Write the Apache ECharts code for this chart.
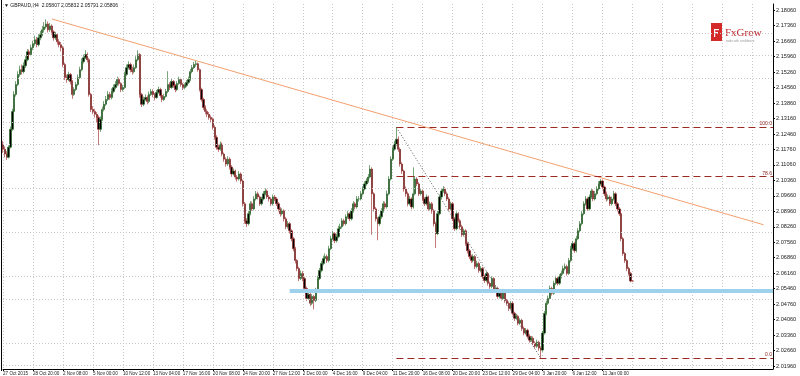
<!DOCTYPE html>
<html><head><meta charset="utf-8">
<script src="https://cdn.jsdelivr.net/npm/echarts@6/dist/echarts.min.js"></script>
<style>html,body{margin:0;padding:0;background:#fff}#c{width:800px;height:376px}</style>
</head><body><div id="c"></div>
<script>
const symbolName = 'GBPAUD,H4';
const timeLabels = ["27 Oct 2015","28 Oct 20:00","2 Nov 08:00","5 Nov 00:00","10 Nov 12:00","13 Nov 04:00","17 Nov 16:00","20 Nov 08:00","24 Nov 20:00","27 Nov 12:00","2 Dec 00:00","4 Dec 16:00","9 Dec 04:00","11 Dec 20:00","16 Dec 08:00","20 Dec 20:00","23 Dec 12:00","29 Dec 04:00","3 Jan 20:00","6 Jan 12:00","11 Jan 00:00"];
const barsPerLabel = 16;
const slotCount = 412;
const yTicks = [2.0196,2.0266,2.0336,2.0406,2.0476,2.0546,2.0616,2.0686,2.0756,2.0826,2.0896,2.0966,2.1036,2.1106,2.1176,2.1246,2.1316,2.1386,2.1456,2.1526,2.1596,2.1666,2.1736,2.1806];
const yMin = 2.01825, yMax = 2.1834;

const opens = [2.1200,2.1177,2.1155,2.1141,2.1186,2.1267,2.1348,2.1425,2.1470,2.1515,
2.1537,2.1528,2.1555,2.1582,2.1618,2.1605,2.1636,2.1654,2.1672,2.1650,
2.1681,2.1695,2.1717,2.1730,2.1744,2.1717,2.1735,2.1708,2.1681,2.1695,
2.1663,2.1650,2.1636,2.1560,2.1501,2.1492,2.1515,2.1483,2.1425,2.1447,
2.1470,2.1501,2.1537,2.1573,2.1591,2.1605,2.1582,2.1425,2.1357,2.1348,
2.1335,2.1321,2.1267,2.1312,2.1357,2.1380,2.1402,2.1425,2.1411,2.1438,
2.1456,2.1470,2.1492,2.1474,2.1447,2.1456,2.1515,2.1546,2.1560,2.1537,
2.1528,2.1546,2.1582,2.1605,2.1425,2.1380,2.1402,2.1411,2.1393,2.1425,
2.1438,2.1425,2.1411,2.1434,2.1447,2.1420,2.1402,2.1416,2.1438,2.1470,
2.1456,2.1483,2.1465,2.1447,2.1474,2.1492,2.1470,2.1456,2.1465,2.1479,
2.1492,2.1528,2.1546,2.1560,2.1564,2.1537,2.1447,2.1402,2.1366,2.1348,
2.1335,2.1321,2.1312,2.1276,2.1231,2.1186,2.1177,2.1200,2.1155,2.1132,
2.1110,2.1132,2.1096,2.1065,2.1078,2.1051,2.1042,2.1065,2.1033,2.0930,
2.0853,2.0840,2.0885,2.0930,2.0907,2.0952,2.0975,2.0961,2.0930,2.0952,
2.0975,2.0988,2.0961,2.0952,2.0930,2.0961,2.0952,2.0930,2.0907,2.0885,
2.0898,2.0862,2.0826,2.0840,2.0808,2.0772,2.0727,2.0673,2.0637,2.0592,
2.0615,2.0592,2.0547,2.0502,2.0520,2.0480,2.0511,2.0493,2.0538,2.0592,
2.0628,2.0660,2.0682,2.0691,2.0673,2.0727,2.0772,2.0795,2.0763,2.0781,
2.0817,2.0826,2.0853,2.0840,2.0871,2.0885,2.0862,2.0898,2.0930,2.0916,
2.0952,2.0952,2.0975,2.0997,2.1020,2.1033,2.1051,2.1087,2.0975,2.0907,
2.0862,2.0840,2.0871,2.0898,2.0930,2.0916,2.0975,2.1042,2.1132,2.1177,
2.1200,2.1222,2.1177,2.1110,2.1078,2.0997,2.0975,2.0930,2.0952,2.0916,
2.0975,2.1042,2.1020,2.0975,2.0988,2.0952,2.0930,2.0961,2.0907,2.0930,
2.0898,2.0840,2.0795,2.0885,2.0961,2.0988,2.0997,2.0975,2.0952,2.0907,
2.0930,2.0862,2.0817,2.0885,2.0853,2.0826,2.0790,2.0808,2.0750,2.0718,
2.0691,2.0673,2.0691,2.0646,2.0660,2.0628,2.0637,2.0601,2.0583,2.0615,
2.0570,2.0556,2.0592,2.0538,2.0547,2.0511,2.0525,2.0502,2.0534,2.0493,
2.0480,2.0457,2.0480,2.0435,2.0412,2.0421,2.0390,2.0403,2.0367,2.0345,
2.0358,2.0331,2.0313,2.0322,2.0300,2.0286,2.0304,2.0277,2.0268,2.0345,
2.0434,2.0480,2.0502,2.0547,2.0525,2.0570,2.0592,2.0570,2.0601,2.0615,
2.0637,2.0646,2.0615,2.0673,2.0727,2.0750,2.0718,2.0772,2.0808,2.0840,
2.0885,2.0930,2.0952,2.0907,2.0961,2.0988,2.0952,2.0975,2.0997,2.1020,
2.1033,2.1006,2.0975,2.0952,2.0961,2.0930,2.0952,2.0975,2.0930,2.0907,
2.0885,2.0772,2.0705,2.0673,2.0637,2.0615,2.05807];

const closes = [2.1177,2.1155,2.1141,2.1186,2.1267,2.1348,2.1425,2.1470,2.1515,2.1537,
2.1528,2.1555,2.1582,2.1618,2.1605,2.1636,2.1654,2.1672,2.1650,2.1681,
2.1695,2.1717,2.1730,2.1744,2.1717,2.1735,2.1708,2.1681,2.1695,2.1663,
2.1650,2.1636,2.1560,2.1501,2.1492,2.1515,2.1483,2.1425,2.1447,2.1470,
2.1501,2.1537,2.1573,2.1591,2.1605,2.1582,2.1425,2.1357,2.1348,2.1335,
2.1321,2.1267,2.1312,2.1357,2.1380,2.1402,2.1425,2.1411,2.1438,2.1456,
2.1470,2.1492,2.1474,2.1447,2.1456,2.1515,2.1546,2.1560,2.1537,2.1528,
2.1546,2.1582,2.1605,2.1425,2.1380,2.1402,2.1411,2.1393,2.1425,2.1438,
2.1425,2.1411,2.1434,2.1447,2.1420,2.1402,2.1416,2.1438,2.1470,2.1456,
2.1483,2.1465,2.1447,2.1474,2.1492,2.1470,2.1456,2.1465,2.1479,2.1492,
2.1528,2.1546,2.1560,2.1564,2.1537,2.1447,2.1402,2.1366,2.1348,2.1335,
2.1321,2.1312,2.1276,2.1231,2.1186,2.1177,2.1200,2.1155,2.1132,2.1110,
2.1132,2.1096,2.1065,2.1078,2.1051,2.1042,2.1065,2.1033,2.0930,2.0853,
2.0840,2.0885,2.0930,2.0907,2.0952,2.0975,2.0961,2.0930,2.0952,2.0975,
2.0988,2.0961,2.0952,2.0930,2.0961,2.0952,2.0930,2.0907,2.0885,2.0898,
2.0862,2.0826,2.0840,2.0808,2.0772,2.0727,2.0673,2.0637,2.0592,2.0615,
2.0592,2.0547,2.0502,2.0520,2.0480,2.0511,2.0493,2.0538,2.0592,2.0628,
2.0660,2.0682,2.0691,2.0673,2.0727,2.0772,2.0795,2.0763,2.0781,2.0817,
2.0826,2.0853,2.0840,2.0871,2.0885,2.0862,2.0898,2.0930,2.0916,2.0952,
2.0952,2.0975,2.0997,2.1020,2.1033,2.1051,2.1087,2.0975,2.0907,2.0862,
2.0840,2.0871,2.0898,2.0930,2.0916,2.0975,2.1042,2.1132,2.1177,2.1200,
2.1222,2.1177,2.1110,2.1078,2.0997,2.0975,2.0930,2.0952,2.0916,2.0975,
2.1042,2.1020,2.0975,2.0988,2.0952,2.0930,2.0961,2.0907,2.0930,2.0898,
2.0840,2.0795,2.0885,2.0961,2.0988,2.0997,2.0975,2.0952,2.0907,2.0930,
2.0862,2.0817,2.0885,2.0853,2.0826,2.0790,2.0808,2.0750,2.0718,2.0691,
2.0673,2.0691,2.0646,2.0660,2.0628,2.0637,2.0601,2.0583,2.0615,2.0570,
2.0556,2.0592,2.0538,2.0547,2.0511,2.0525,2.0502,2.0534,2.0493,2.0480,
2.0457,2.0480,2.0435,2.0412,2.0421,2.0390,2.0403,2.0367,2.0345,2.0358,
2.0331,2.0313,2.0322,2.0300,2.0286,2.0304,2.0277,2.0268,2.0345,2.0434,
2.0480,2.0502,2.0547,2.0525,2.0570,2.0592,2.0570,2.0601,2.0615,2.0637,
2.0646,2.0615,2.0673,2.0727,2.0750,2.0718,2.0772,2.0808,2.0840,2.0885,
2.0930,2.0952,2.0907,2.0961,2.0988,2.0952,2.0975,2.0997,2.1020,2.1033,
2.1006,2.0975,2.0952,2.0961,2.0930,2.0952,2.0975,2.0930,2.0907,2.0885,
2.0772,2.0705,2.0673,2.0637,2.0615,2.05807,2.05806];

const highs = [2.1215,2.1190,2.1168,2.1195,2.1280,2.1360,2.1440,2.1485,2.1530,2.1555,
2.1560,2.1570,2.1598,2.1630,2.1628,2.1650,2.1668,2.1690,2.1685,2.1698,
2.1712,2.1735,2.1752,2.1765,2.1755,2.1748,2.1742,2.1715,2.1708,2.1702,
2.1675,2.1662,2.1645,2.1568,2.1515,2.1528,2.1522,2.1490,2.1458,2.1482,
2.1515,2.1550,2.1588,2.1605,2.1625,2.1615,2.1590,2.1432,2.1372,2.1360,
2.1345,2.1330,2.1325,2.1370,2.1395,2.1418,2.1440,2.1435,2.1452,2.1470,
2.1485,2.1505,2.1500,2.1480,2.1468,2.1528,2.1560,2.1575,2.1568,2.1550,
2.1560,2.1598,2.1625,2.1612,2.1432,2.1415,2.1425,2.1420,2.1438,2.1450,
2.1448,2.1432,2.1445,2.1460,2.1455,2.1428,2.1428,2.1450,2.1530,2.1480,
2.1495,2.1490,2.1472,2.1485,2.1505,2.1500,2.1478,2.1475,2.1490,2.1505,
2.1540,2.1558,2.1572,2.1580,2.1570,2.1542,2.1455,2.1410,2.1375,2.1358,
2.1345,2.1330,2.1320,2.1285,2.1240,2.1198,2.1212,2.1208,2.1162,2.1140,
2.1145,2.1140,2.1105,2.1090,2.1085,2.1060,2.1078,2.1072,2.1040,2.0938,
2.0865,2.0898,2.0942,2.0940,2.0965,2.0988,2.0985,2.0968,2.0962,2.0988,
2.1000,2.0995,2.0970,2.0960,2.0972,2.0970,2.0960,2.0938,2.0915,2.0910,
2.0905,2.0870,2.0852,2.0848,2.0815,2.0780,2.0735,2.0680,2.0645,2.0628,
2.0625,2.0600,2.0555,2.0532,2.0528,2.0522,2.0518,2.0550,2.0605,2.0640,
2.0672,2.0695,2.0705,2.0700,2.0740,2.0785,2.0808,2.0802,2.0795,2.0830,
2.0840,2.0865,2.0862,2.0882,2.0898,2.0892,2.0910,2.0942,2.0938,2.0965,
2.0965,2.0988,2.1010,2.1032,2.1045,2.1065,2.1105,2.1095,2.0982,2.0915,
2.0870,2.0882,2.0910,2.0942,2.0940,2.0990,2.1055,2.1145,2.1190,2.1215,
2.1276,2.1235,2.1185,2.1118,2.1085,2.1008,2.0985,2.0965,2.0960,2.1095,
2.1055,2.1050,2.1028,2.1000,2.0995,2.0960,2.0972,2.0968,2.0940,2.0938,
2.0905,2.0848,2.0898,2.0972,2.1000,2.1010,2.1005,2.0985,2.0960,2.0940,
2.0938,2.0870,2.0895,2.0892,2.0862,2.0835,2.0818,2.0815,2.0758,2.0725,
2.0700,2.0702,2.0698,2.0672,2.0668,2.0648,2.0645,2.0610,2.0625,2.0622,
2.0578,2.0602,2.0598,2.0558,2.0555,2.0535,2.0532,2.0545,2.0540,2.0500,
2.0488,2.0490,2.0488,2.0442,2.0432,2.0428,2.0412,2.0410,2.0375,2.0368,
2.0365,2.0340,2.0332,2.0330,2.0308,2.0315,2.0310,2.0285,2.0355,2.0445,
2.0492,2.0515,2.0560,2.0555,2.0582,2.0605,2.0600,2.0612,2.0628,2.0650,
2.0660,2.0655,2.0685,2.0740,2.0762,2.0758,2.0785,2.0820,2.0852,2.0898,
2.0942,2.0965,2.0960,2.0972,2.1000,2.0995,2.0988,2.1010,2.1032,2.1042,
2.1040,2.1012,2.0985,2.0972,2.0968,2.0962,2.0988,2.0982,2.0938,2.0915,
2.0892,2.0780,2.0712,2.0680,2.0645,2.0622,2.05832];

const lows = [2.1160,2.1140,2.1128,2.1135,2.1180,2.1260,2.1340,2.1415,2.1462,2.1505,
2.1515,2.1520,2.1545,2.1575,2.1590,2.1598,2.1625,2.1645,2.1638,2.1642,
2.1670,2.1688,2.1705,2.1722,2.1705,2.1708,2.1695,2.1668,2.1672,2.1650,
2.1638,2.1620,2.1548,2.1490,2.1478,2.1485,2.1470,2.1405,2.1418,2.1440,
2.1462,2.1495,2.1530,2.1565,2.1585,2.1570,2.1415,2.1345,2.1335,2.1320,
2.1300,2.1195,2.1255,2.1305,2.1348,2.1372,2.1395,2.1400,2.1402,2.1430,
2.1448,2.1462,2.1465,2.1435,2.1438,2.1450,2.1508,2.1538,2.1525,2.1515,
2.1520,2.1540,2.1575,2.1410,2.1368,2.1372,2.1395,2.1380,2.1385,2.1418,
2.1412,2.1398,2.1405,2.1428,2.1410,2.1390,2.1395,2.1410,2.1430,2.1445,
2.1450,2.1455,2.1435,2.1440,2.1468,2.1460,2.1445,2.1448,2.1458,2.1472,
2.1485,2.1520,2.1540,2.1550,2.1528,2.1438,2.1392,2.1355,2.1335,2.1322,
2.1310,2.1298,2.1265,2.1220,2.1175,2.1165,2.1170,2.1145,2.1120,2.1098,
2.1102,2.1085,2.1052,2.1058,2.1040,2.1030,2.1035,2.1020,2.0918,2.0840,
2.0825,2.0832,2.0878,2.0898,2.0900,2.0945,2.0950,2.0920,2.0922,2.0945,
2.0968,2.0952,2.0940,2.0920,2.0922,2.0942,2.0920,2.0895,2.0872,2.0878,
2.0850,2.0815,2.0818,2.0795,2.0760,2.0715,2.0660,2.0625,2.0580,2.0585,
2.0580,2.0535,2.0490,2.0495,2.0468,2.0472,2.0452,2.0485,2.0530,2.0585,
2.0620,2.0652,2.0672,2.0662,2.0665,2.0720,2.0765,2.0752,2.0755,2.0775,
2.0808,2.0818,2.0830,2.0832,2.0862,2.0852,2.0855,2.0890,2.0905,2.0908,
2.0940,2.0945,2.0968,2.0990,2.1012,2.1025,2.1045,2.0790,2.0895,2.0850,
2.0765,2.0830,2.0862,2.0890,2.0905,2.0908,2.0968,2.1035,2.1125,2.1170,
2.1192,2.1165,2.1098,2.1065,2.0985,2.0962,2.0918,2.0922,2.0905,2.0908,
2.0968,2.1010,2.0965,2.0968,2.0942,2.0920,2.0922,2.0898,2.0898,2.0885,
2.0828,2.0730,2.0788,2.0878,2.0952,2.0980,2.0965,2.0942,2.0898,2.0898,
2.0852,2.0808,2.0810,2.0845,2.0815,2.0780,2.0782,2.0740,2.0705,2.0680,
2.0662,2.0665,2.0635,2.0638,2.0618,2.0620,2.0590,2.0572,2.0575,2.0560,
2.0545,2.0548,2.0528,2.0530,2.0500,2.0502,2.0492,2.0495,2.0482,2.0470,
2.0445,2.0450,2.0425,2.0400,2.0405,2.0380,2.0382,2.0355,2.0335,2.0338,
2.0320,2.0302,2.0305,2.0290,2.0275,2.0278,2.0265,2.0232,2.0260,2.0338,
2.0425,2.0472,2.0495,2.0515,2.0518,2.0562,2.0560,2.0562,2.0592,2.0608,
2.0628,2.0605,2.0608,2.0665,2.0720,2.0708,2.0710,2.0765,2.0800,2.0832,
2.0878,2.0922,2.0898,2.0900,2.0952,2.0942,2.0945,2.0968,2.0990,2.1012,
2.0995,2.0965,2.0940,2.0945,2.0920,2.0922,2.0945,2.0920,2.0895,2.0875,
2.0760,2.0695,2.0662,2.0625,2.0605,2.0575,2.05791];

// drawn objects (bar index, price)
const trendLine = [[26, 2.17665], [406, 2.0835]];
const fibHigh = [210, 2.1276], fibLow = [287, 2.0232];
const fibLevels = [{ratio: 1.0, text: '100.0'}, {ratio: 0.786, text: '78.6'}, {ratio: 0.0, text: '0.0'}];
const supportZone = [[153, 2.0538], [411, 2.0538]];

const cats = [];
for (let i = 0; i < slotCount; i++) {
  const k = i / barsPerLabel;
  cats.push(Number.isInteger(k) && k < timeLabels.length ? timeLabels[k] : '#' + i);
}
const labelIdx = (i) => i % barsPerLabel === 0 && i / barsPerLabel < timeLabels.length;
const gridIdx = (i) => i % barsPerLabel === 0;

const candleData = closes.map((c, i) => [opens[i], c, lows[i], highs[i]]);
const last = candleData.length - 1;
const lastClose = closes[last];
const FONT = 'Liberation Sans';

const fibRange = fibHigh[1] - fibLow[1];
const fibLines = fibLevels.map(l => {
  const v = fibLow[1] + fibRange * l.ratio;
  return [{coord: [fibHigh[0], v]}, {coord: [slotCount - 1, v], label: {show: true, formatter: l.text, position: 'insideEndTop', distance: 1, fontSize: 5, color: '#8b1a1a', fontFamily: FONT}}];
});

const chart = echarts.init(document.getElementById('c'), null, {renderer: 'canvas'});
chart.setOption({
  animation: false,
  backgroundColor: '#ffffff',
  grid: {left: 2, right: 27, top: 4, bottom: 5, containLabel: false},
  xAxis: {
    type: 'category', data: cats, boundaryGap: false,
    axisLine: {show: true, lineStyle: {color: '#000', width: 1}},
    axisTick: {show: true, length: 2, interval: (i) => labelIdx(i), lineStyle: {color: '#000'}},
    axisLabel: {show: true, interval: (i) => labelIdx(i), align: 'left', fontSize: 4.6, color: '#222', margin: 2, fontFamily: FONT,
      formatter: (v) => v.charAt(0) === '#' ? '' : v},
    splitLine: {show: true, interval: (i) => gridIdx(i), lineStyle: {color: '#c9c9c9', type: [1, 2], width: 1}}
  },
  yAxis: {
    type: 'value', position: 'right', min: yMin, max: yMax, scale: true,
    axisLine: {show: true, lineStyle: {color: '#000', width: 1}},
    axisTick: {show: true, length: 2, customValues: yTicks, lineStyle: {color: '#000'}},
    axisLabel: {show: true, customValues: yTicks, fontSize: 5.6, color: '#222', margin: 3, fontFamily: FONT, formatter: (v) => v.toFixed(5)},
    splitLine: {show: false}
  },
  graphic: [
    {type: 'line', shape: {x1: 1.5, y1: 0, x2: 1.5, y2: 371}, style: {stroke: '#000', lineWidth: 1}, silent: true},
    {type: 'text', left: 4, top: 3, style: {text: '\u25BC ' + symbolName + '  ' + [opens[last], highs[last], lows[last], closes[last]].map(v => v.toFixed(5)).join(' '), fontSize: 5, fill: '#111', fontFamily: FONT}},
    {type: 'group', left: 711, top: 23, children: [
      {type: 'rect', shape: {x: 0, y: 0, width: 11, height: 18}, style: {fill: '#d42a2a'}},
      {type: 'rect', shape: {x: 3, y: 6, width: 5, height: 1.2}, style: {fill: '#fff'}},
      {type: 'rect', shape: {x: 3, y: 9, width: 4, height: 1.2}, style: {fill: '#fff'}},
      {type: 'rect', shape: {x: 3, y: 6, width: 1.2, height: 8}, style: {fill: '#fff'}},
      {type: 'text', x: 14, y: 5, style: {text: 'FxGrow', fontSize: 11, fill: '#c0282d', fontFamily: 'Liberation Serif'}},
      {type: 'text', x: 15, y: 17, style: {text: 'trade with confidence', fontSize: 3, fill: '#999', fontFamily: FONT}}
    ]}
  ],
  series: [
    {
      type: 'line', data: [], silent: true, z: 1,
      markLine: {silent: true, symbol: 'none', animation: false, label: {show: false},
        lineStyle: {color: '#c9c9c9', type: [1, 2], width: 1},
        data: yTicks.filter((v, i) => i % 2 === 0).map(v => ({yAxis: v}))}
    },
    {
      type: 'candlestick', data: candleData, z: 3, barWidth: 1.8,
      itemStyle: {color: '#000000', color0: '#000000', borderColor: '#1f6a1f', borderColor0: '#9c1e1e', borderWidth: 0.6},
      markLine: {
        silent: true, symbol: 'none', animation: false, precision: 5,
        label: {show: false},
        data: [
          [{coord: trendLine[0], lineStyle: {color: '#f2a06e', width: 1, type: 'solid'}}, {coord: trendLine[1]}],
          ...fibLines.map(p => [Object.assign({lineStyle: {color: '#9a2a22', width: 1, type: [7, 4]}}, p[0]), p[1]]),
          [{coord: fibHigh, lineStyle: {color: '#555', width: 1, type: [1, 2]}}, {coord: fibLow}],
          [{coord: supportZone[0], lineStyle: {color: '#9ed2ec', width: 4, type: 'solid'}}, {coord: supportZone[1]}],
          {yAxis: lastClose, lineStyle: {opacity: 0}, label: {show: true, position: 'end', distance: 2, formatter: lastClose.toFixed(5), backgroundColor: '#000', color: '#fff', fontSize: 5.6, padding: [1, 1], fontFamily: FONT}}
        ]
      }
    }
  ]
});
</script></body></html>
